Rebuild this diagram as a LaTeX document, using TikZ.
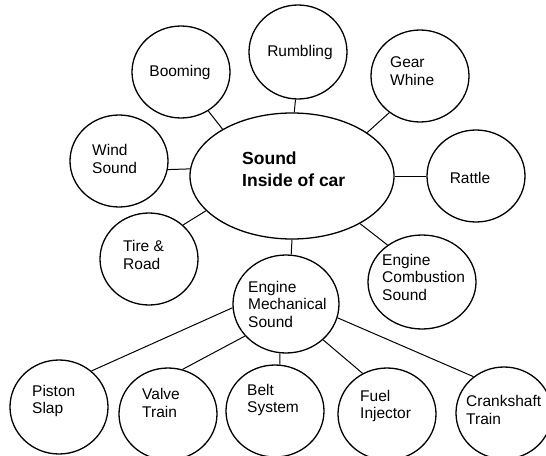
\documentclass[tikz,border=0pt]{standalone}
\usepackage{fontspec}
\setmainfont{Liberation Sans}
\usetikzlibrary{shapes.geometric}
\begin{document}
\begin{tikzpicture}[x=1pt,y=-1pt,
  bubble/.style={draw=black,line width=1.3pt,ellipse,inner sep=0pt,minimum width=98pt,minimum height=92pt},
  lbl/.style={font=\fontsize{15.5}{17.5}\selectfont,align=left,inner sep=0pt},
  bigl/.style={font=\bfseries\fontsize{17.5}{22}\selectfont,align=left,inner sep=0pt},
  link/.style={draw=black,line width=1pt}]
\useasboundingbox (0,0) rectangle (546,455);
% shapes
\node[bubble,minimum width=204pt,minimum height=126pt] (main) at (292,176) {};
\node[bubble] (boom) at (181,72) {};
\node[bubble,minimum height=94pt] (rumb) at (298,52) {};
\node[bubble] (gear) at (420,76) {};
\node[bubble] (rattle) at (476,176) {};
\node[bubble] (wind) at (119,161) {};
\node[bubble] (tire) at (149,259) {};
\node[bubble,minimum width=108pt,minimum height=94pt] (comb) at (422,282) {};
\node[bubble,minimum width=106pt,minimum height=98pt] (ems) at (286,304) {};
\node[bubble,minimum height=94pt] (piston) at (59,407) {};
\node[bubble] (valve) at (168,414) {};
\node[bubble] (belt) at (275,411) {};
\node[bubble] (fuel) at (387,414) {};
\node[bubble,minimum width=96pt] (crank) at (504,413) {};
% texts
\node[bigl,anchor=west] (maint) at (242,169) {Sound\\Inside of car};
\node[lbl] (boomt) at (180,72) {Booming};
\node[lbl] (rumbt) at (300,52) {Rumbling};
\node[lbl,anchor=west] (geart) at (390,71) {Gear\\Whine};
\node[lbl] (rattlet) at (470,178) {Rattle};
\node[lbl,anchor=west] (windt) at (92,159) {Wind\\Sound};
\node[lbl,anchor=west] (tiret) at (123,255) {Tire \&\\Road};
\node[lbl,anchor=west] (combt) at (382,277) {Engine\\Combustion\\Sound};
\node[lbl,anchor=west] (emst) at (248,304) {Engine\\Mechanical\\Sound};
\node[lbl,anchor=west] (pistont) at (32,401) {Piston\\Slap};
\node[lbl,anchor=west] (valvet) at (142,403) {Valve\\Train};
\node[lbl,anchor=west] (beltt) at (247,400) {Belt\\System};
\node[lbl,anchor=west] (fuelt) at (360,406) {Fuel\\Injector};
\node[lbl,anchor=west] (crankt) at (466,410) {Crankshaft\\Train};
% connectors
\draw[link] (boom.-55) -- (main.146);
\draw[link] (rumb.-93) -- (main.88);
\draw[link] (gear.-130) -- (main.30);
\draw[link] (main.east) -- (rattle.west);
\draw[link] (wind.-10) -- (main.176);
\draw[link] (tire.45) -- (main.202);
\draw[link] (comb.133) -- (main.-35);
\draw[link] (main.-90) -- (ems.84);
\draw[link] (ems.184) -- (piston.48);
\draw[link] (ems.218) -- (valve.72);
\draw[link] (ems.-97) -- (belt.84);
\draw[link] (ems.-44) -- (fuel.121);
\draw[link] (ems.-15) -- (crank.130);
\end{tikzpicture}
\end{document}
